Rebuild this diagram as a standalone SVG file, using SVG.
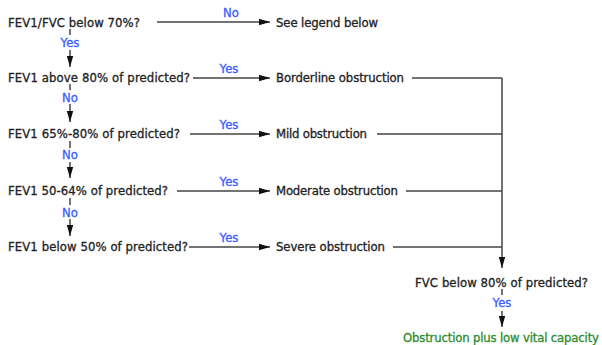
<svg xmlns="http://www.w3.org/2000/svg" width="602" height="345" viewBox="0 0 602 345">
<style>
text{font-family:"DejaVu Sans",Verdana,sans-serif;font-size:11.7px;stroke-width:0.3px}
.t{fill:#222;stroke:#222}
.lb{fill:#3a5cff;stroke:#3a5cff}
.g{fill:#2e8b2e;stroke:#2e8b2e}
.c{stroke:#444;stroke-width:1.5;fill:none}
</style>
<defs>
<marker id="ah" markerUnits="userSpaceOnUse" markerWidth="12" markerHeight="8" refX="11" refY="4" orient="auto">
<path d="M0,0.8 L11,4 L0,7.2 Z" fill="#111"/>
</marker>
</defs>
<g id="connectors">
<path class="c" d="M157,22 H270" marker-end="url(#ah)"/>
<path class="c" d="M193,78 H270" marker-end="url(#ah)"/>
<path class="c" d="M190,134 H270" marker-end="url(#ah)"/>
<path class="c" d="M177,191 H270" marker-end="url(#ah)"/>
<path class="c" d="M189,247 H270" marker-end="url(#ah)"/>
<path class="c" d="M70,29 V35"/>
<path class="c" d="M70,50 V67" marker-end="url(#ah)"/>
<path class="c" d="M70,84 V90"/>
<path class="c" d="M70,104 V122" marker-end="url(#ah)"/>
<path class="c" d="M70,141 V148"/>
<path class="c" d="M70,162 V178" marker-end="url(#ah)"/>
<path class="c" d="M70,198 V205"/>
<path class="c" d="M70,219 V236" marker-end="url(#ah)"/>
<path class="c" d="M412,78 H502"/>
<path class="c" d="M377,134 H502"/>
<path class="c" d="M406,191 H502"/>
<path class="c" d="M393,247 H502"/>
<path class="c" d="M502,78 V268" marker-end="url(#ah)"/>
<path class="c" d="M502,289 V295"/>
<path class="c" d="M502,311 V327" marker-end="url(#ah)"/>
<text class="lb" x="231" y="17" text-anchor="middle">No</text>
<text class="lb" x="229" y="73" text-anchor="middle">Yes</text>
<text class="lb" x="229" y="129" text-anchor="middle">Yes</text>
<text class="lb" x="229" y="186" text-anchor="middle">Yes</text>
<text class="lb" x="229" y="242" text-anchor="middle">Yes</text>
<text class="lb" x="70" y="47" text-anchor="middle">Yes</text>
<text class="lb" x="70" y="102" text-anchor="middle">No</text>
<text class="lb" x="70" y="159" text-anchor="middle">No</text>
<text class="lb" x="70" y="217" text-anchor="middle">No</text>
<text class="lb" x="502" y="307" text-anchor="middle">Yes</text>
</g>
<g id="q1"><text class="t" x="8" y="27" textLength="132">FEV1/FVC below 70%?</text></g>
<g id="legend"><text class="t" x="276" y="27" textLength="102">See legend below</text></g>
<g id="q2"><text class="t" x="8" y="82" textLength="182">FEV1 above 80% of predicted?</text></g>
<g id="borderline"><text class="t" x="276" y="82" textLength="128">Borderline obstruction</text></g>
<g id="q3"><text class="t" x="8" y="138" textLength="172">FEV1 65%-80% of predicted?</text></g>
<g id="mild"><text class="t" x="276" y="138" textLength="91">Mild obstruction</text></g>
<g id="q4"><text class="t" x="8" y="195" textLength="160">FEV1 50-64% of predicted?</text></g>
<g id="moderate"><text class="t" x="276" y="195" textLength="122">Moderate obstruction</text></g>
<g id="q5"><text class="t" x="8" y="251" textLength="180">FEV1 below 50% of predicted?</text></g>
<g id="severe"><text class="t" x="276" y="251" textLength="109">Severe obstruction</text></g>
<g id="fvc"><text class="t" x="415" y="287" textLength="173">FVC below 80% of predicted?</text></g>
<g id="result"><text class="g" x="403" y="342" textLength="196">Obstruction plus low vital capacity</text></g>
</svg>
